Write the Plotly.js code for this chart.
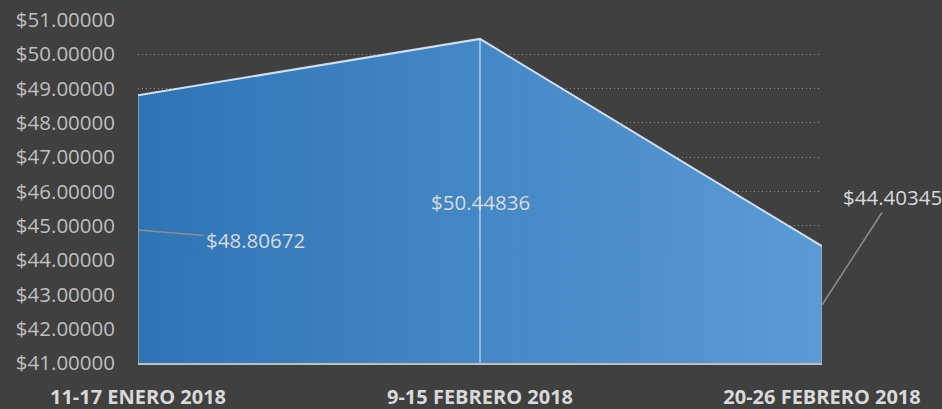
<!DOCTYPE html>
<html>
<head>
<meta charset="utf-8">
<script src="https://cdn.plot.ly/plotly-3.0.1.min.js"></script>
<style>
html,body{margin:0;padding:0;background:#404040;}
#chart{width:942px;height:409px;}
</style>
</head>
<body>
<div id="chart"></div>
<script>
var categories = ["11-17 ENERO 2018", "9-15 FEBRERO 2018", "20-26 FEBRERO 2018"];
var values = [48.80672, 50.44836, 44.40345];
var yTicks = [41, 42, 43, 44, 45, 46, 47, 48, 49, 50, 51];
var yTickText = yTicks.map(function(v){ return "$" + v.toFixed(5); });
var labelText = values.map(function(v){ return "$" + v.toFixed(5); });

var yMin = 41, yMax = 51;
var FONT = "Open Sans, sans-serif";

var area = {
  x: categories,
  y: values,
  type: "scatter",
  mode: "lines",
  fill: "tozeroy",
  fillgradient: {type: "horizontal", colorscale: [[0, "#2e74b5"], [1, "#5b9bd5"]]},
  line: {color: "rgba(214,230,246,0.95)", width: 2},
  hoverinfo: "skip",
  showlegend: false
};

var shapes = [
  {type: "line", xref: "x", yref: "y", x0: categories[1], x1: categories[1], y0: yMin, y1: values[1],
   line: {color: "rgba(200,222,244,0.8)", width: 1.5}, layer: "above"},
  {type: "line", xref: "x", yref: "y", x0: categories[0], x1: categories[0], y0: yMin, y1: values[0],
   line: {color: "rgba(170,180,190,0.9)", width: 1.5}, layer: "above"},
  {type: "line", xref: "x", yref: "y", x0: categories[2], x1: categories[2], y0: yMin, y1: values[2],
   line: {color: "rgba(170,180,190,0.9)", width: 1.5}, layer: "above"}
];

var annFont = {family: FONT, size: 20.5, color: "#d9d9d9"};
var annotations = [
  {x: categories[0], y: 44.88, xref: "x", yref: "y", text: labelText[0], font: annFont,
   showarrow: true, arrowhead: 0, arrowwidth: 1.5, arrowcolor: "#8c8c8c", ax: 117, ay: 10, standoff: 0},
  {x: categories[1], y: 45.7, xref: "x", yref: "y", text: labelText[1], font: annFont, showarrow: false},
  {x: categories[2], y: 42.69, xref: "x", yref: "y", text: labelText[2], font: annFont,
   showarrow: true, arrowhead: 0, arrowwidth: 1.5, arrowcolor: "#8c8c8c", ax: 70, ay: -108, standoff: 0}
];

var layout = {
  width: 942, height: 409,
  paper_bgcolor: "#404040",
  plot_bgcolor: "#404040",
  margin: {l: 138, r: 120, t: 20, b: 46, pad: 0},
  showlegend: false,
  xaxis: {
    type: "category",
    range: [0, 2],
    showgrid: false,
    zeroline: false,
    showline: true,
    linecolor: "#bfbfbf",
    linewidth: 1.5,
    ticks: "",
    ticklabelstandoff: 15,
    tickfont: {family: FONT, size: 20, color: "#d9d9d9", weight: "bold"},
    fixedrange: true
  },
  yaxis: {
    range: [yMin, yMax],
    tickvals: yTicks,
    ticktext: yTickText,
    showgrid: true,
    gridcolor: "#8c8c8c",
    griddash: "1px,3px",
    gridwidth: 1,
    zeroline: false,
    showline: false,
    ticks: "",
    ticklabelstandoff: 22,
    tickfont: {family: FONT, size: 20.5, color: "#bfbfbf"},
    fixedrange: true
  },
  shapes: shapes,
  annotations: annotations
};

Plotly.newPlot("chart", [area], layout, {displayModeBar: false, staticPlot: true});
</script>
</body>
</html>
